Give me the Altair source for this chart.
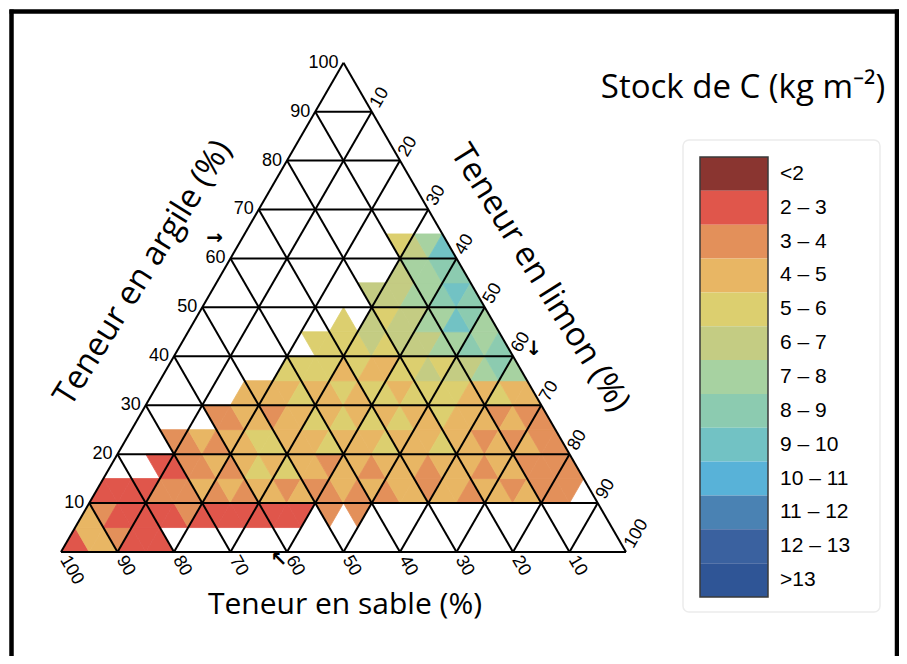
import math
import pandas as pd
import altair as alt

H3 = math.sqrt(3) / 2

# ---- classes of the colour scale (Stock de C, kg m-2)
class_labels = ["<2", "2 – 3", "3 – 4", "4 – 5", "5 – 6", "6 – 7", "7 – 8",
                "8 – 9", "9 – 10", "10 – 11", "11 – 12", "12 – 13", ">13"]
class_codes = list("abcdefghijklm")
class_colors = ["#8a3530", "#e0564b", "#e3905a", "#e8b664", "#dccf6f", "#c4cc83",
                "#a7d2a1", "#8ccbb0", "#72c2c4", "#58b2d8", "#4a82b3", "#3a619f", "#2f5596"]

# ---- 5 % triangular cells, one string per clay band (0-5, 5-10, ... %), left (sand rich) to right
rows = [
    "bddcbbb",
    "dcbbbbbcbbbbbbbb.c.c",
    "bbbbcccdcdcddcdccdcdcddcddcddcdccc.",
    "...bbccdcdededdcddcdddcdddcddcccc",
    "...ccdcddeedddedddedddeddcdcdcc",
    ".....ccddcddededededdedddcdcc",
    "......ddddeddedeedeeeeddedd",
    "........eeeededdeefeffghg",
    ".........eeeefefffgghgh",
    "..........e.feffggihg",
    "...........fffgghih",
    "............fgghh",
    "...........efgi",
]

tick_values = [10, 20, 30, 40, 50, 60, 70, 80, 90, 100]
grid_values = [10, 20, 30, 40, 50, 60, 70, 80, 90]

# ---- cells table
cells = []
for r in range(20):
    n = 39 - 2 * r
    s = rows[r] if r < len(rows) else ""
    s = (s + "." * n)[:n]
    for k, ch in enumerate(s):
        if ch == ".":
            continue
        cells.append({
            "tx": 2.5 * (r + k + 1),
            "ty": (5 * r + 2.5) * H3,
            "shape": "triangle-up" if k % 2 == 0 else "triangle-down",
            "classe": class_labels[class_codes.index(ch)],
        })
cells_df = pd.DataFrame(cells)

# ---- grid lines (clay, sand, silt) + outline
lines = []
for v in grid_values:
    lines.append({"x1": v / 2, "y1": v * H3, "x2": 100 - v / 2, "y2": v * H3})           # clay
    lines.append({"x1": 100 - v, "y1": 0, "x2": (100 - v) / 2, "y2": (100 - v) * H3})   # sand
    lines.append({"x1": v, "y1": 0, "x2": v + (100 - v) / 2, "y2": (100 - v) * H3})     # silt
lines += [
    {"x1": 0, "y1": 0, "x2": 100, "y2": 0},
    {"x1": 0, "y1": 0, "x2": 50, "y2": 100 * H3},
    {"x1": 100, "y1": 0, "x2": 50, "y2": 100 * H3},
]
lines_df = pd.DataFrame(lines)

clay_df = pd.DataFrame({"tx": [v / 2 for v in tick_values],
                        "ty": [v * H3 for v in tick_values],
                        "t": [str(v) for v in tick_values]})
silt_df = pd.DataFrame({"tx": [50 + v / 2 for v in tick_values],
                        "ty": [(100 - v) * H3 for v in tick_values],
                        "t": [str(v) for v in tick_values]})
sand_df = pd.DataFrame({"tx": [100 - v for v in tick_values],
                        "ty": [0 for v in tick_values],
                        "t": [str(v) for v in tick_values]})

# ---- scales (ternary -> cartesian units)
xs = alt.Scale(domain=[-9.381, 148.319], nice=False, zero=False)
ys = alt.Scale(domain=[-18.407, 96.283], nice=False, zero=False)
cscale = alt.Scale(domain=class_labels, range=class_colors)

X = lambda f: alt.X(f, type="quantitative", scale=xs, axis=None)
Y = lambda f: alt.Y(f, type="quantitative", scale=ys, axis=None)

cell_layer = alt.Chart(cells_df).mark_point(filled=True, opacity=1, strokeWidth=0.8).encode(
    x=X("tx"), y=Y("ty"),
    shape=alt.Shape("shape:N", scale=None),
    color=alt.Color("classe:N", scale=cscale, legend=None),
    stroke=alt.Stroke("classe:N", scale=cscale, legend=None),
    size=alt.value(800),
)

grid_layer = alt.Chart(lines_df).mark_rule(color="black", strokeWidth=2).encode(
    x=X("x1"), y=Y("y1"), x2="x2:Q", y2="y2:Q")

tick_font = dict(font="Liberation Sans", fontSize=18, color="black", baseline="middle")
clay_lab = alt.Chart(clay_df).mark_text(align="right", dx=-5, **tick_font).encode(
    x=X("tx"), y=Y("ty"), text="t:N")
silt_lab = alt.Chart(silt_df).mark_text(align="left", dx=6, angle=300, **tick_font).encode(
    x=X("tx"), y=Y("ty"), text="t:N")
sand_lab = alt.Chart(sand_df).mark_text(align="left", dx=6, angle=60, **tick_font).encode(
    x=X("tx"), y=Y("ty"), text="t:N")

one = pd.DataFrame({"a": [0]})


def label(text, x, y, size, angle=0, font="Open Sans", align="center", weight="normal"):
    return alt.Chart(one).mark_text(text=text, font=font, fontSize=size, angle=angle,
                                    align=align, baseline="middle", color="black",
                                    fontWeight=weight).encode(
        x=alt.value(x), y=alt.value(y))


arrows_df = pd.DataFrame({"tx": [27.2, 83.7, 38.5], "ty": [55.5, 36.0, -1.5],
                          "t": ["→", "↓", "↖"]})
arrow_layer = alt.Chart(arrows_df).mark_text(font="DejaVu Sans", fontSize=20, color="black",
                                             fontWeight="bold", baseline="middle").encode(
    x=X("tx"), y=Y("ty"), text="t:N")

titles = [
    label("Stock de C (kg m⁻²)", 735, 80, 33),
    label("Teneur en argile (%)", 135, 265, 33, angle=302),
    label("Teneur en limon (%)", 532, 270, 33, angle=58),
    label("Teneur en sable (%)", 337, 597, 30),
]

# ---- legend drawn as a band scale
leg_df = pd.DataFrame({"classe": class_labels})
leg_y = alt.Y("classe:N", sort=class_labels, axis=None,
              scale=alt.Scale(domain=class_labels, range=[149, 589], paddingInner=0, paddingOuter=0))
leg_frame = alt.Chart(one).mark_rect(fill="white", stroke="#ececec", strokeWidth=1.5,
                                     cornerRadius=6).encode(
    x=alt.value(675), x2=alt.value(872), y=alt.value(132), y2=alt.value(604))
leg_rects = alt.Chart(leg_df).mark_rect().encode(
    y=leg_y, x=alt.value(692), x2=alt.value(760),
    color=alt.Color("classe:N", scale=cscale, legend=None))
leg_outline = alt.Chart(one).mark_rect(fill=None, stroke="#3a3a3a", strokeWidth=1.5).encode(
    x=alt.value(692), x2=alt.value(760), y=alt.value(149), y2=alt.value(589))
leg_text = alt.Chart(leg_df).mark_text(align="left", baseline="middle", font="Liberation Sans",
                                       fontSize=21, color="black").encode(
    y=leg_y, x=alt.value(772), text="classe:N")

# ---- outer frame
frame = [
    alt.Chart(one).mark_rule(color="black", strokeWidth=4.5).encode(
        x=alt.value(3.5), y=alt.value(1.5), y2=alt.value(648)),
    alt.Chart(one).mark_rule(color="black", strokeWidth=4.5).encode(
        x=alt.value(1.5), x2=alt.value(891), y=alt.value(3.5)),
    alt.Chart(one).mark_rule(color="black", strokeWidth=4.5).encode(
        x=alt.value(889), y=alt.value(1.5), y2=alt.value(648)),
]

chart = alt.layer(
    leg_frame, cell_layer, grid_layer, clay_lab, silt_lab, sand_lab, arrow_layer,
    *titles, leg_rects, leg_outline, leg_text, *frame,
).resolve_scale(y="independent").properties(
    width=891, height=648, padding=0, autosize=alt.AutoSizeParams(type="none"),
    background="white",
).configure_view(stroke=None)

chart.save("out.html", embed_options={"renderer": "svg", "actions": False})
